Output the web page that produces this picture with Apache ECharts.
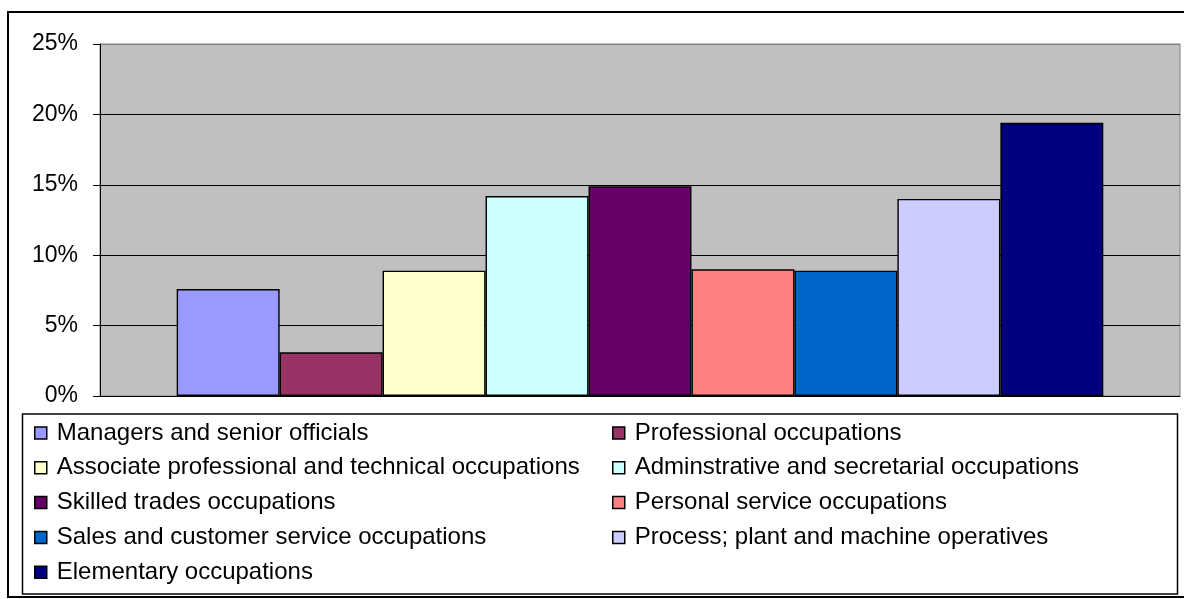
<!DOCTYPE html>
<html>
<head>
<meta charset="utf-8">
<script src="https://cdn.jsdelivr.net/npm/echarts@6/dist/echarts.min.js"></script>
<style>
  html, body { margin: 0; padding: 0; background: #fff; }
  #chart { width: 1184px; height: 599px; }
</style>
</head>
<body>
<div id="chart"></div>
<script>
const occupations = [
  'Managers and senior officials',
  'Professional occupations',
  'Associate professional and technical occupations',
  'Adminstrative and secretarial occupations',
  'Skilled trades occupations',
  'Personal service occupations',
  'Sales and customer service occupations',
  'Process; plant and machine operatives',
  'Elementary occupations'
];
const shares = [7.6, 3.1, 8.9, 14.2, 14.9, 9.0, 8.9, 14.0, 19.4];
const barColors = ['#9999FF', '#993366', '#FFFFCC', '#CCFFFF', '#660066', '#FF8080', '#0066CC', '#CCCCFF', '#000080'];

const font = 'Arial, "Liberation Sans", sans-serif';

// legend is laid out in two columns, alternating
const leftCol = occupations.filter((n, i) => i % 2 === 0);
const rightCol = occupations.filter((n, i) => i % 2 === 1);

function legendCol(data, left) {
  return {
    data: data,
    orient: 'vertical',
    left: left,
    top: 421,
    itemWidth: 12,
    itemHeight: 12,
    itemGap: 10.8,
    padding: 0,
    selectedMode: false,
    icon: 'rect',
    itemStyle: {borderColor: '#000', borderWidth: 1.5},
    textStyle: {fontFamily: font, fontSize: 24, color: '#000', lineHeight: 24, padding: [0, 0, 0, 5]}
  }
}

const chart = echarts.init(document.getElementById('chart'));
const option = {
  animation: false,
  backgroundColor: '#fff',
  grid: {
    left: 100, top: 44, right: 4, bottom: 203,
    show: true,
    backgroundColor: '#C0C0C0',
    borderColor: '#808080',
    borderWidth: 1
  },
  legend: [legendCol(leftCol, 34), legendCol(rightCol, 612)],
  xAxis: {
    type: 'category',
    data: [''],
    axisLine: {show: true, lineStyle: {color: '#000', width: 1}},
    axisTick: {show: false},
    axisLabel: {show: false}
  },
  yAxis: {
    type: 'value',
    min: 0,
    max: 25,
    interval: 5,
    axisLine: {show: true, lineStyle: {color: '#000', width: 1}},
    axisTick: {show: true, length: 7, lineStyle: {color: '#000'}},
    axisLabel: {
      formatter: '{value}%',
      fontFamily: font,
      fontSize: 23,
      color: '#000',
      margin: 22
    },
    splitLine: {
      show: true,
      lineStyle: {color: ['#000', '#000', '#000', '#000', '#000', '#808080'], width: 1}
    }
  },
  series: occupations.map((name, i) => ({
    name: name,
    type: 'bar',
    data: [shares[i]],
    barGap: '0%',
    barCategoryGap: '14.2%',
    itemStyle: {color: barColors[i], borderColor: '#000', borderWidth: 1.4}
  })),
  graphic: [
    {
      type: 'rect',
      shape: {x: 8, y: 12, width: 1190, height: 585},
      style: {fill: null, stroke: '#000', lineWidth: 2},
      silent: true
    },
    {
      type: 'rect',
      shape: {x: 22.5, y: 414, width: 1155, height: 180},
      style: {fill: null, stroke: '#000', lineWidth: 1.5},
      silent: true
    }
  ]
};
chart.setOption(option);
window.addEventListener('resize', function () {
  chart.resize();
});
</script>
</body>
</html>
